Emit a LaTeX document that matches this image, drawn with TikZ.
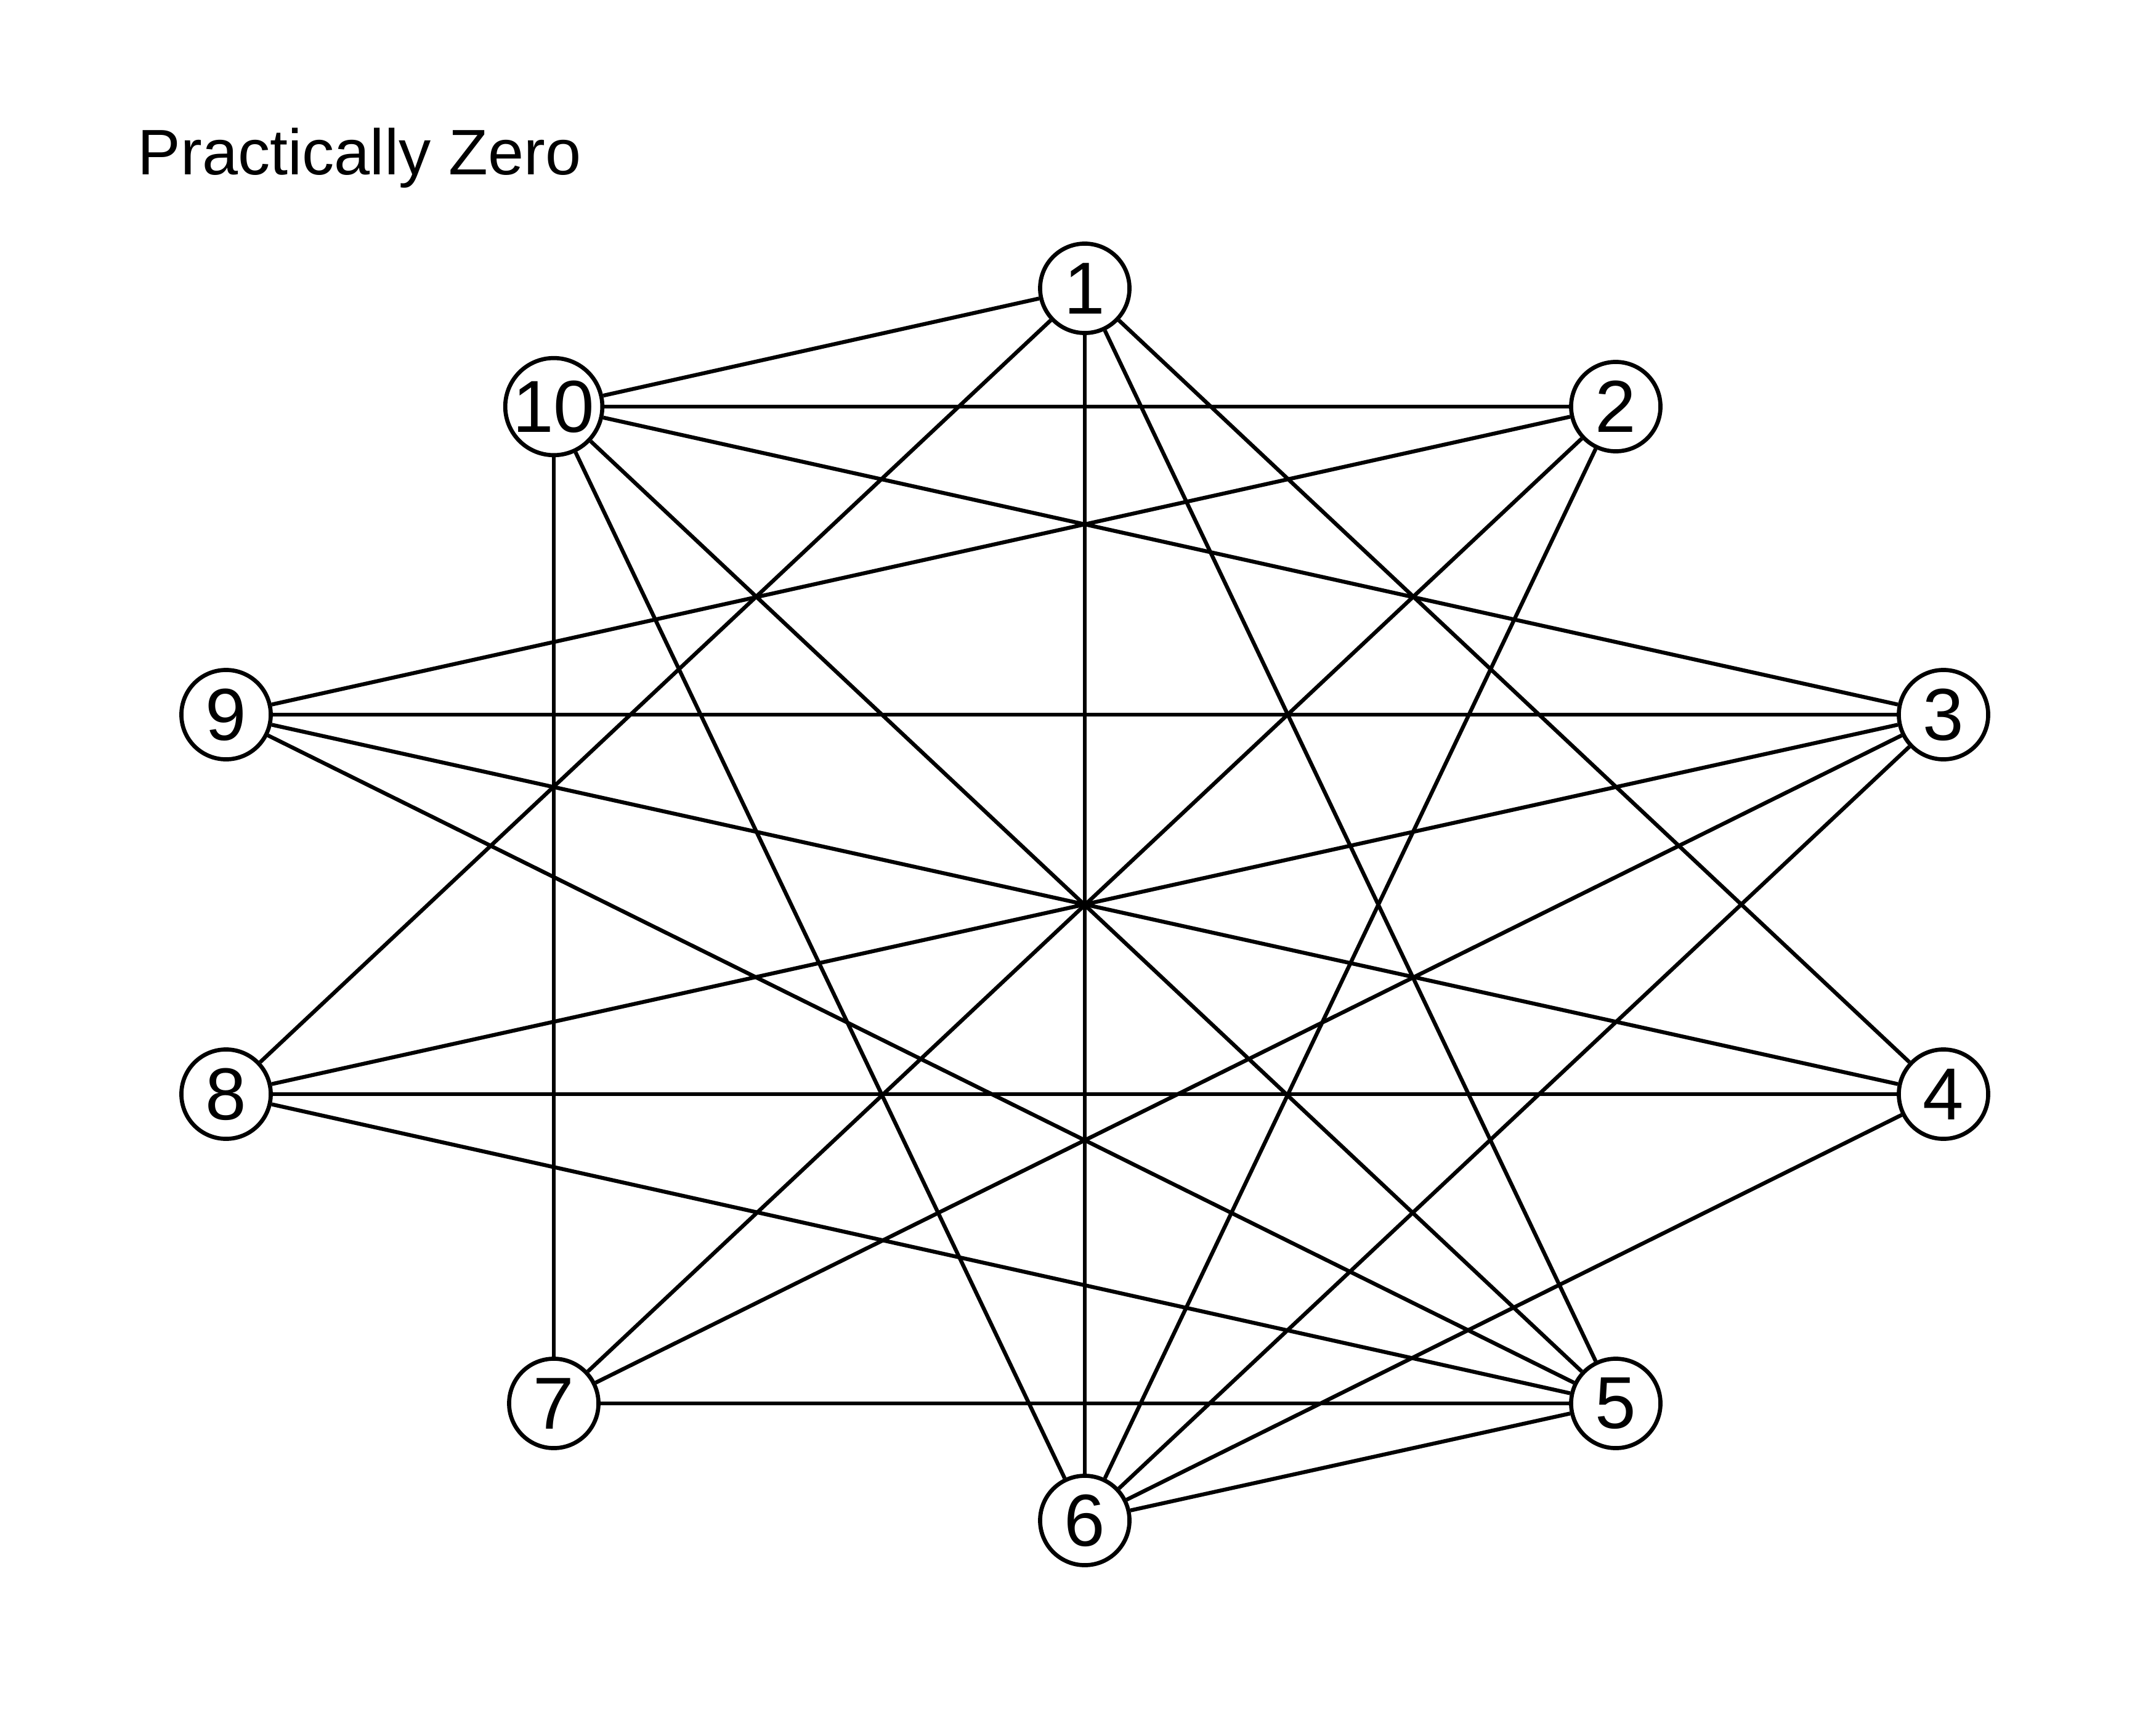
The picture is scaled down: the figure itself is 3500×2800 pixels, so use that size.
\documentclass[tikz,border=0pt]{standalone}
\usepackage{fontspec}
\setmainfont{Liberation Sans}
\begin{document}
\begin{tikzpicture}[x=0.01cm,y=-0.01cm,
  vtx/.style={circle,draw=black,fill=white,line width=1.9pt,minimum size=1.45cm,inner sep=0pt,
    font=\fontsize{34}{40}\selectfont},
  edge/.style={draw=black,line width=1.8pt}]
\useasboundingbox (0,0) rectangle (3500,2800);
\fill[white] (0,0) rectangle (3500,2800);
\node[anchor=base west,inner sep=0pt,font=\fontsize{29.7}{36}\selectfont] (title) at (223,284) {Practically Zero};
\node[vtx] (n1) at (1761,468) {1};
\node[vtx] (n2) at (2623,660) {2};
\node[vtx] (n3) at (3155,1160) {3};
\node[vtx] (n4) at (3155,1776) {4};
\node[vtx] (n5) at (2623,2278) {5};
\node[vtx] (n6) at (1761,2468) {6};
\node[vtx] (n7) at (899,2278) {7};
\node[vtx] (n8) at (367,1776) {8};
\node[vtx] (n9) at (367,1160) {9};
\node[vtx] (n10) at (899,660) {10};
\begin{scope}[on background layer/.try]
\end{scope}
\foreach \a/\b in {n1/n10,n1/n8,n1/n6,n1/n5,n1/n4,n10/n2,n10/n3,n10/n7,n10/n6,n10/n5,
  n2/n9,n2/n7,n2/n6,n9/n3,n9/n4,n9/n5,n3/n8,n3/n7,n3/n6,n8/n4,n8/n5,n4/n6,n7/n5,n5/n6}
  \draw[edge] (\a) -- (\b);
\end{tikzpicture}
\end{document}
